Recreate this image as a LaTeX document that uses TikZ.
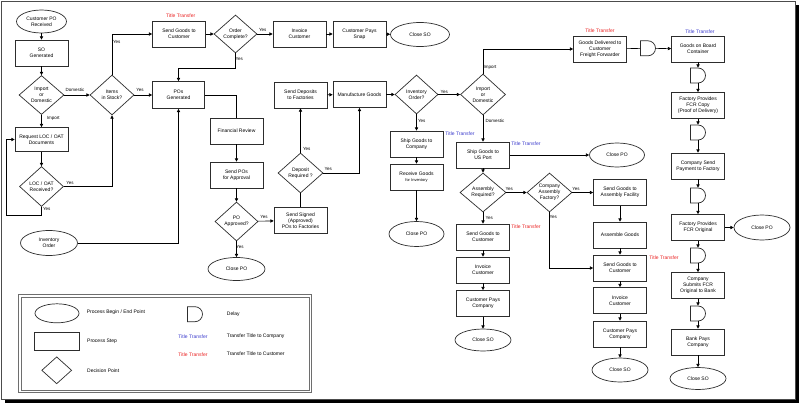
\documentclass[tikz,border=0pt]{standalone}
\usepackage{fontspec}
\setmainfont{Liberation Sans}
\usetikzlibrary{shapes.geometric,shapes.misc,arrows.meta}
\definecolor{ttred}{RGB}{235,35,35}
\definecolor{ttblue}{RGB}{60,60,205}
\definecolor{boxc}{RGB}{45,45,45}
\definecolor{lgframe}{RGB}{110,110,110}
\begin{document}
\begin{tikzpicture}[x=1pt,y=-1pt, font=\fontsize{5}{6}\selectfont,
 proc/.style={rectangle, draw=boxc, line width=0.7pt, minimum width=53pt, minimum height=26pt, align=center, inner sep=1pt, fill=white},
 term/.style={ellipse, draw=boxc, line width=0.7pt, minimum width=56pt, minimum height=24pt, align=center, inner sep=0pt, fill=white},
 dec/.style={diamond, draw=boxc, line width=0.7pt, minimum width=44pt, minimum height=40pt, aspect=1.1, align=center, inner sep=0pt, fill=white},
 dly/.style={rounded rectangle, rounded rectangle left arc=none, draw=boxc, line width=0.7pt, minimum width=13pt, minimum height=15pt, inner sep=0pt, fill=white},
 conn/.style={line width=0.6pt, draw=black},
 arr/.style={conn, -{Triangle[length=3.2pt,width=3.2pt]}},
 lbl/.style={font=\fontsize{4.5}{5}\selectfont, inner sep=0.5pt},
 ttr/.style={text=ttred},
 ttb/.style={text=ttblue},
 lgt/.style={anchor=west, inner sep=0pt},
 lgf/.style={draw=lgframe, line width=0.8pt}
]
\useasboundingbox (0,0) rectangle (800,404);
% frame with shadow
\fill[black] (5,5) rectangle (799,403);
\filldraw[fill=white, draw=gray!60!black, line width=0.8pt] (1,1) rectangle (795,399.5);

% ---- left part
\node[term, minimum width=50pt, minimum height=23pt] (cpo) at (41.5,21.5) {Customer PO\\Received};
\node[proc] (so) at (41.5,53) {SO\\Generated};
\node[dec, minimum width=45pt, minimum height=39pt] (imp1) at (41.5,95) {Import\\or\\Domestic};
\node[dec, minimum width=44pt, minimum height=40pt] (stock) at (112,95) {Items\\in Stock?};
\node[proc, minimum height=24pt] (req) at (41.5,139.5) {Request LOC / OAT\\Documents};
\node[dec] (loc) at (41.5,186.5) {LOC / OAT\\Received?};
\node[term, minimum width=57pt, minimum height=25pt] (inv) at (49,243) {Inventory\\Order};
\coordinate (lp1) at (6.7,215);

% ---- top row
\node[proc] (sgc1) at (179,34) {Send Goods to\\Customer};
\node[ttr] (tt1) at (180.7,16) {Title Transfer};
\node[dec, minimum width=43pt, minimum height=38pt] (ordc) at (235.5,34) {Order\\Complete?};
\node[proc] (invc1) at (299.5,34) {Invoice\\Customer};
\node[proc] (cps) at (359.5,34) {Customer Pays\\Snap};
\node[term, minimum width=59pt] (cso1) at (420,34.5) {Close SO};
\coordinate (oc1) at (235.5,68);

% ---- PO branch
\node[proc, minimum width=52pt, minimum height=27pt] (pog) at (178.5,95) {POs\\Generated};
\node[proc] (fin) at (236.5,131) {Financial Review};
\node[proc] (spa) at (236.5,175) {Send POs\\for Approval};
\node[dec, minimum width=43pt, minimum height=39pt] (poa) at (236.5,221.5) {PO\\Approved?};
\node[term, minimum width=57pt, minimum height=23pt] (cpo2) at (236.5,269) {Close PO};
\node[proc] (ssp) at (300.5,220.5) {Send Signed\\(Approved)\\POs to Factories};
\node[dec, minimum width=45pt, minimum height=40pt] (dep) at (300.5,173) {Deposit\\Required ?};
\node[proc] (sdf) at (300.5,95) {Send Deposits\\to Factories};
\node[proc] (mfg) at (359.5,94.5) {Manufacture Goods};
\node[dec, minimum width=43pt, minimum height=39pt] (iord) at (416.5,94.5) {Inventory\\Order?};
\node[dec, minimum width=45pt, minimum height=41pt] (imp2) at (483,94.5) {Import\\or\\Domestic};

% ---- inventory branch
\node[proc] (sgco) at (416.5,144) {Ship Goods to\\Company};
\node[ttb] (tt2) at (460,134) {Title Transfer};
\node[proc] (rgi) at (416.5,177) {Receive Goods\\{\fontsize{4}{5}\selectfont for Inventory}};
\node[term, minimum width=55pt, minimum height=25pt] (cpo3) at (416.5,234) {Close PO};

% ---- domestic branch
\node[proc] (sus) at (483,155) {Ship Goods to\\US Port};
\node[ttb] (tt3) at (526,144) {Title Transfer};
\node[term, minimum width=55pt] (cpo4) at (617,155) {Close PO};
\node[dec, minimum width=46pt, minimum height=39pt] (asm) at (483,192.5) {Assembly\\Required?};
\node[dec, minimum width=45pt, minimum height=39pt] (caf) at (549.5,192.5) {Company\\Assembly\\Factory?};
\node[proc] (sga) at (620,192.5) {Send Goods to\\Assembly Facility};
\node[proc] (asg) at (620,235) {Assemble Goods};
\node[proc] (sgc2) at (620,268) {Send Goods to\\Customer};
\node[ttr] (tt4) at (664,258) {Title Transfer};
\node[proc] (invc2) at (620,300.5) {Invoice\\Customer};
\node[proc] (cpc2) at (620,334) {Customer Pays\\Company};
\node[term] (cso2) at (620,370) {Close SO};
\node[proc] (sgc3) at (483,237) {Send Goods to\\Customer};
\node[ttr] (tt5) at (526,227) {Title Transfer};
\node[proc] (invc3) at (483,270) {Invoice\\Customer};
\node[proc] (cpc3) at (483,303.5) {Customer Pays\\Company};
\node[term, minimum height=22pt] (cso3) at (483,340) {Close SO};

% ---- import branch (right column)
\node[proc] (gdf) at (600,49) {Goods Delivered to\\Customer\\Freight Forwarder};
\node[ttr] (tt6) at (600,30.7) {Title Transfer};
\node[dly] (d1) at (648,48.3) {};
\node[proc] (gob) at (698,49) {Goods on Board\\Container};
\node[ttb] (tt7) at (700,32) {Title Transfer};
\node[dly] (d2) at (698,75.5) {};
\node[proc] (fcr1) at (698,105.5) {Factory Provides\\FCR Copy\\(Proof of Delivery)};
\node[dly] (d3) at (698,132.5) {};
\node[proc] (csp) at (698,166) {Company Send\\Payment to Factory};
\node[dly] (d4) at (698,195.5) {};
\node[proc] (fcr2) at (698,227.5) {Factory Provides\\FCR Original};
\node[term, minimum width=56pt, minimum height=25pt] (cpo5) at (762,227.5) {Close PO};
\node[dly] (d5) at (698,255.5) {};
\node[proc] (csb) at (698,285.5) {Company\\Submits FCR\\Original to Bank};
\node[dly] (d6) at (698,313.5) {};
\node[proc] (bpc) at (698,342) {Bank Pays\\Company};
\node[term, minimum height=22pt] (cso4) at (698,378.5) {Close SO};

% ---- connectors
\draw[arr] (cpo) -- (so);
\draw[arr] (so) -- (imp1);
\draw[arr] (imp1) -- (stock);
\draw[arr] (imp1) -- (req);
\draw[arr] (req) -- (loc);
\draw[arr] (loc.east) -| (stock.south);
\draw[arr] (loc.south) |- (lp1) |- (req.west);
\draw[arr] (inv.east) -| (pog.south);
\draw[arr] (stock.north) |- (sgc1.west);
\draw[arr] (stock) -- (pog);
\draw[arr] (sgc1) -- (ordc);
\draw[arr] (ordc) -- (invc1);
\draw[arr] (invc1) -- (cps);
\draw[arr] (cps) -- (cso1);
\draw[arr] (ordc.south) |- (oc1) -| (pog.north);
\draw[conn] (pog.east) -| (fin.north);
\draw[arr] (fin) -- (spa);
\draw[arr] (spa) -- (poa);
\draw[arr] (poa) -- (ssp);
\draw[arr] (poa) -- (cpo2);
\draw[conn] (ssp) -- (dep);
\draw[arr] (dep) -- (sdf);
\draw[arr] (dep.east) -| (mfg.south);
\draw[arr] (sdf) -- (mfg);
\draw[arr] (mfg) -- (iord);
\draw[arr] (iord) -- (imp2);
\draw[arr] (iord) -- (sgco);
\draw[arr] (sgco) -- (rgi);
\draw[arr] (rgi) -- (cpo3);
\draw[arr] (imp2.north) |- (gdf.west);
\draw[arr] (imp2) -- (sus);
\draw[arr] (sus) -- (cpo4);
\draw[arr] (sus) -- (asm);
\draw[arr] (asm) -- (caf);
\draw[arr] (asm) -- (sgc3);
\draw[arr] (caf) -- (sga);
\draw[arr] (caf.south) |- (sgc2.west);
\draw[arr] (sga) -- (asg);
\draw[arr] (asg) -- (sgc2);
\draw[arr] (sgc2) -- (invc2);
\draw[arr] (invc2) -- (cpc2);
\draw[arr] (cpc2) -- (cso2);
\draw[arr] (sgc3) -- (invc3);
\draw[arr] (invc3) -- (cpc3);
\draw[arr] (cpc3) -- (cso3);
\draw[conn] (gdf) -- (d1);
\draw[arr] (d1) -- (gob);
\draw[arr] (gob) -- (d2);
\draw[arr] (d2) -- (fcr1);
\draw[arr] (fcr1) -- (d3);
\draw[arr] (d3) -- (csp);
\draw[arr] (csp) -- (d4);
\draw[arr] (d4) -- (fcr2);
\draw[arr] (fcr2) -- (cpo5);
\draw[arr] (fcr2) -- (d5);
\draw[arr] (d5) -- (csb);
\draw[arr] (csb) -- (d6);
\draw[arr] (d6) -- (bpc);
\draw[arr] (bpc) -- (cso4);

% ---- connector labels
\node[lbl] (l1) at (75,90) {Domestic};
\node[lbl] (l2) at (53.3,118.3) {Import};
\node[lbl] (l3) at (116.7,41.7) {Yes};
\node[lbl] (l4) at (140,90) {Yes};
\node[lbl] (l5) at (70,182.7) {Yes};
\node[lbl] (l6) at (46.7,209) {Yes};
\node[lbl] (l7) at (262.7,30) {Yes};
\node[lbl] (l8) at (239.3,59.3) {Yes};
\node[lbl] (l9) at (264,217.3) {Yes};
\node[lbl] (l10) at (240,247.3) {Yes};
\node[lbl] (l11) at (306.7,149) {Yes};
\node[lbl] (l12) at (328.3,169.3) {Yes};
\node[lbl] (l13) at (444.3,91.7) {Yes};
\node[lbl] (l14) at (421.7,121) {Yes};
\node[lbl] (l15) at (490,67.3) {Import};
\node[lbl] (l16) at (495,120.7) {Domestic};
\node[lbl] (l17) at (509.3,189.3) {Yes};
\node[lbl] (l18) at (489.3,217.7) {Yes};
\node[lbl] (l19) at (576,189) {Yes};
\node[lbl] (l20) at (553.3,217.3) {Yes};

% ---- legend
\path[lgf] (18.5,294.5) rectangle (311.5,392.5);
\path[lgf] (21,297) rectangle (309,390);
\node[term, minimum width=44pt, minimum height=19pt] (lge) at (57,313.3) {};
\node[lgt] (lget) at (86.7,312.7) {Process Begin / End Point};
\node[proc, minimum width=44.7pt, minimum height=17.7pt] (lgb) at (56.7,341) {};
\node[lgt] (lgbt) at (87,341) {Process Step};
\node[dec, minimum width=30pt, minimum height=27pt] (lgd) at (56.7,370.3) {};
\node[lgt] (lgdt) at (87,370.7) {Decision Point};
\node[dly] (lgy) at (195,314.2) {};
\node[lgt] (lgyt) at (226.7,314) {Delay};
\node[ttb] (lgb2) at (193,337) {Title Transfer};
\node[lgt] (lgb2t) at (226.7,336) {Transfer Title to Company};
\node[ttr] (lgr2) at (193,355) {Title Transfer};
\node[lgt] (lgr2t) at (226.7,354) {Transfer Title to Customer};
\end{tikzpicture}
\end{document}
